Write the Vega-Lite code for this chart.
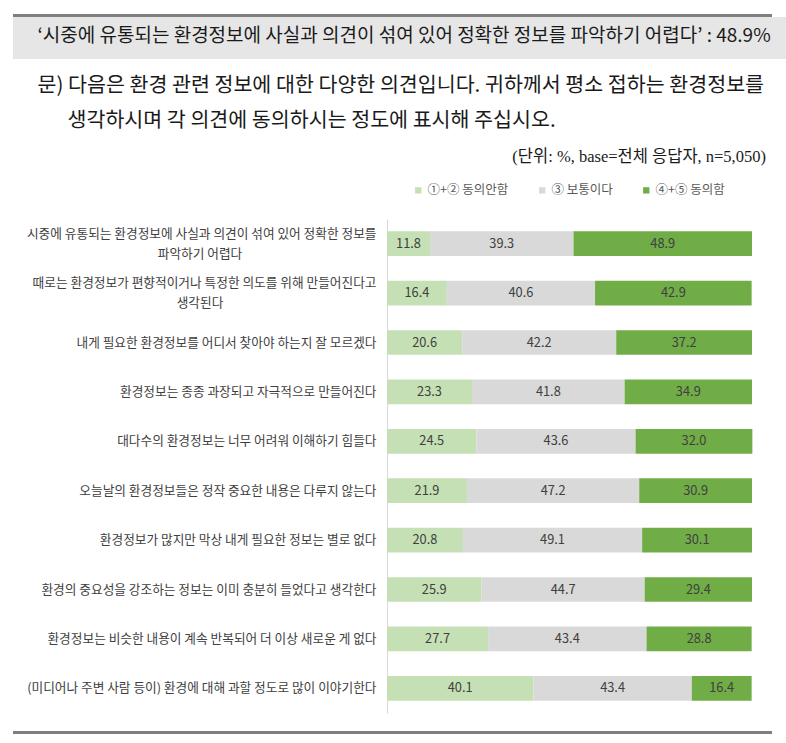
{
  "$schema": "https://vega.github.io/schema/vega-lite/v6.json",
  "width": 365,
  "height": 494,
  "autosize": {"type": "none"},
  "padding": {"left": 387, "top": 219, "right": 34, "bottom": 30},
  "background": "white",
  "config": {
    "view": {"stroke": null},
    "font": "Noto Sans CJK KR"
  },
  "datasets": {
    "survey": [
      {"item": "시중에 유통되는 환경정보에 사실과 의견이 섞여 있어 정확한 정보를|파악하기 어렵다", "cat": "①+② 동의안함", "ord": 1, "value": 11.8},
      {"item": "시중에 유통되는 환경정보에 사실과 의견이 섞여 있어 정확한 정보를|파악하기 어렵다", "cat": "③ 보통이다", "ord": 2, "value": 39.3},
      {"item": "시중에 유통되는 환경정보에 사실과 의견이 섞여 있어 정확한 정보를|파악하기 어렵다", "cat": "④+⑤ 동의함", "ord": 3, "value": 48.9},
      {"item": "때로는 환경정보가 편향적이거나 특정한 의도를 위해 만들어진다고|생각된다", "cat": "①+② 동의안함", "ord": 1, "value": 16.4},
      {"item": "때로는 환경정보가 편향적이거나 특정한 의도를 위해 만들어진다고|생각된다", "cat": "③ 보통이다", "ord": 2, "value": 40.6},
      {"item": "때로는 환경정보가 편향적이거나 특정한 의도를 위해 만들어진다고|생각된다", "cat": "④+⑤ 동의함", "ord": 3, "value": 42.9},
      {"item": "내게 필요한 환경정보를 어디서 찾아야 하는지 잘 모르겠다", "cat": "①+② 동의안함", "ord": 1, "value": 20.6},
      {"item": "내게 필요한 환경정보를 어디서 찾아야 하는지 잘 모르겠다", "cat": "③ 보통이다", "ord": 2, "value": 42.2},
      {"item": "내게 필요한 환경정보를 어디서 찾아야 하는지 잘 모르겠다", "cat": "④+⑤ 동의함", "ord": 3, "value": 37.2},
      {"item": "환경정보는 종종 과장되고 자극적으로 만들어진다", "cat": "①+② 동의안함", "ord": 1, "value": 23.3},
      {"item": "환경정보는 종종 과장되고 자극적으로 만들어진다", "cat": "③ 보통이다", "ord": 2, "value": 41.8},
      {"item": "환경정보는 종종 과장되고 자극적으로 만들어진다", "cat": "④+⑤ 동의함", "ord": 3, "value": 34.9},
      {"item": "대다수의 환경정보는 너무 어려워 이해하기 힘들다", "cat": "①+② 동의안함", "ord": 1, "value": 24.5},
      {"item": "대다수의 환경정보는 너무 어려워 이해하기 힘들다", "cat": "③ 보통이다", "ord": 2, "value": 43.6},
      {"item": "대다수의 환경정보는 너무 어려워 이해하기 힘들다", "cat": "④+⑤ 동의함", "ord": 3, "value": 32.0},
      {"item": "오늘날의 환경정보들은 정작 중요한 내용은 다루지 않는다", "cat": "①+② 동의안함", "ord": 1, "value": 21.9},
      {"item": "오늘날의 환경정보들은 정작 중요한 내용은 다루지 않는다", "cat": "③ 보통이다", "ord": 2, "value": 47.2},
      {"item": "오늘날의 환경정보들은 정작 중요한 내용은 다루지 않는다", "cat": "④+⑤ 동의함", "ord": 3, "value": 30.9},
      {"item": "환경정보가 많지만 막상 내게 필요한 정보는 별로 없다", "cat": "①+② 동의안함", "ord": 1, "value": 20.8},
      {"item": "환경정보가 많지만 막상 내게 필요한 정보는 별로 없다", "cat": "③ 보통이다", "ord": 2, "value": 49.1},
      {"item": "환경정보가 많지만 막상 내게 필요한 정보는 별로 없다", "cat": "④+⑤ 동의함", "ord": 3, "value": 30.1},
      {"item": "환경의 중요성을 강조하는 정보는 이미 충분히 들었다고 생각한다", "cat": "①+② 동의안함", "ord": 1, "value": 25.9},
      {"item": "환경의 중요성을 강조하는 정보는 이미 충분히 들었다고 생각한다", "cat": "③ 보통이다", "ord": 2, "value": 44.7},
      {"item": "환경의 중요성을 강조하는 정보는 이미 충분히 들었다고 생각한다", "cat": "④+⑤ 동의함", "ord": 3, "value": 29.4},
      {"item": "환경정보는 비슷한 내용이 계속 반복되어 더 이상 새로운 게 없다", "cat": "①+② 동의안함", "ord": 1, "value": 27.7},
      {"item": "환경정보는 비슷한 내용이 계속 반복되어 더 이상 새로운 게 없다", "cat": "③ 보통이다", "ord": 2, "value": 43.4},
      {"item": "환경정보는 비슷한 내용이 계속 반복되어 더 이상 새로운 게 없다", "cat": "④+⑤ 동의함", "ord": 3, "value": 28.8},
      {"item": "(미디어나 주변 사람 등이) 환경에 대해 과할 정도로 많이 이야기한다", "cat": "①+② 동의안함", "ord": 1, "value": 40.1},
      {"item": "(미디어나 주변 사람 등이) 환경에 대해 과할 정도로 많이 이야기한다", "cat": "③ 보통이다", "ord": 2, "value": 43.4},
      {"item": "(미디어나 주변 사람 등이) 환경에 대해 과할 정도로 많이 이야기한다", "cat": "④+⑤ 동의함", "ord": 3, "value": 16.4}
    ]
  },
  "layer": [
    {
      "data": {"values": [{}]},
      "mark": {"type": "rect", "color": "#e6e6e6", "x": -374, "x2": 400, "y": -202, "y2": -160}
    },
    {
      "data": {"values": [{}]},
      "mark": {"type": "rect", "color": "#7f7f7f", "x": -374, "x2": 385, "y": -205, "y2": -202}
    },
    {
      "data": {"values": [{}]},
      "mark": {"type": "rect", "color": "#7f7f7f", "x": -374, "x2": 385, "y": 512, "y2": 515}
    },
    {
      "data": {"values": [{}]},
      "mark": {"type": "text", "text": "‘시중에 유통되는 환경정보에 사실과 의견이 섞여 있어 정확한 정보를 파악하기 어렵다’ : 48.9%", "x": -349.5, "y": -183, "align": "left", "baseline": "middle", "fontSize": 19, "color": "#1a1a1a"}
    },
    {
      "data": {"values": [{}]},
      "mark": {"type": "text", "text": "문) 다음은 환경 관련 정보에 대한 다양한 의견입니다. 귀하께서 평소 접하는 환경정보를", "x": -349.5, "y": -133, "align": "left", "baseline": "middle", "fontSize": 20.6, "color": "#1a1a1a"}
    },
    {
      "data": {"values": [{}]},
      "mark": {"type": "text", "text": "생각하시며 각 의견에 동의하시는 정도에 표시해 주십시오.", "x": -319.5, "y": -98, "align": "left", "baseline": "middle", "fontSize": 20.6, "color": "#1a1a1a"}
    },
    {
      "data": {"values": [{}]},
      "mark": {"type": "text", "text": "(단위: %, base=전체 응답자, n=5,050)", "x": 379, "y": -62, "align": "right", "baseline": "middle", "fontSize": 16.5, "font": "Liberation Serif, Noto Sans CJK KR", "color": "#1a1a1a"}
    },
    {
      "data": {"name": "survey"},
      "transform": [
        {"stack": "value", "groupby": ["item"], "sort": [{"field": "ord"}], "as": ["x0", "x1"]}
      ],
      "mark": {"type": "bar"},
      "encoding": {
        "y": {
          "field": "item", "type": "nominal", "sort": null,
          "scale": {"paddingInner": 0.5, "paddingOuter": 0.25},
          "axis": {
            "title": null, "ticks": false, "domainColor": "#d9d9d9", "domainWidth": 1,
            "labelFontSize": 12.7, "labelColor": "#404040", "labelPadding": 11, "labelLimit": 500,
            "labelOffset": {"condition": {"test": "indexof(datum.value, '|') >= 0", "value": -10}, "value": 0},
            "labelExpr": "split(datum.label, '|')[0]"
          }
        },
        "x": {"field": "x0", "type": "quantitative", "scale": {"domain": [0, 100], "nice": false}, "axis": null},
        "x2": {"field": "x1"},
        "color": {
          "field": "cat", "type": "nominal",
          "scale": {"domain": ["①+② 동의안함", "③ 보통이다", "④+⑤ 동의함"], "range": ["#c5e0b4", "#d9d9d9", "#70ad47"]},
          "legend": {
            "title": null, "orient": "none", "legendX": 25, "legendY": -35, "direction": "horizontal",
            "symbolType": "square", "symbolSize": 40, "symbolStrokeWidth": 0,
            "labelFontSize": 12.5, "labelColor": "#595959", "labelOffset": 3, "columnPadding": 27, "padding": 0
          }
        }
      }
    },
    {
      "data": {"name": "survey"},
      "transform": [
        {"stack": "value", "groupby": ["item"], "sort": [{"field": "ord"}], "as": ["x0", "x1"]},
        {"calculate": "(datum.x0 + datum.x1) / 2", "as": "mid"}
      ],
      "mark": {"type": "text", "fontSize": 12.8, "color": "#404040", "baseline": "middle"},
      "encoding": {
        "y": {"field": "item", "type": "nominal", "sort": null},
        "x": {"field": "mid", "type": "quantitative"},
        "text": {"field": "value", "type": "quantitative", "format": ".1f"}
      }
    },
    {
      "data": {"name": "survey"},
      "transform": [
        {"filter": "indexof(datum.item, '|') >= 0 && datum.ord == 1"},
        {"calculate": "split(datum.item, '|')[1]", "as": "line2"}
      ],
      "mark": {"type": "text", "fontSize": 12.7, "color": "#404040", "baseline": "middle", "align": "center", "x": -187, "dy": 10},
      "encoding": {
        "y": {"field": "item", "type": "nominal", "sort": null},
        "text": {"field": "line2"}
      }
    }
  ]
}
